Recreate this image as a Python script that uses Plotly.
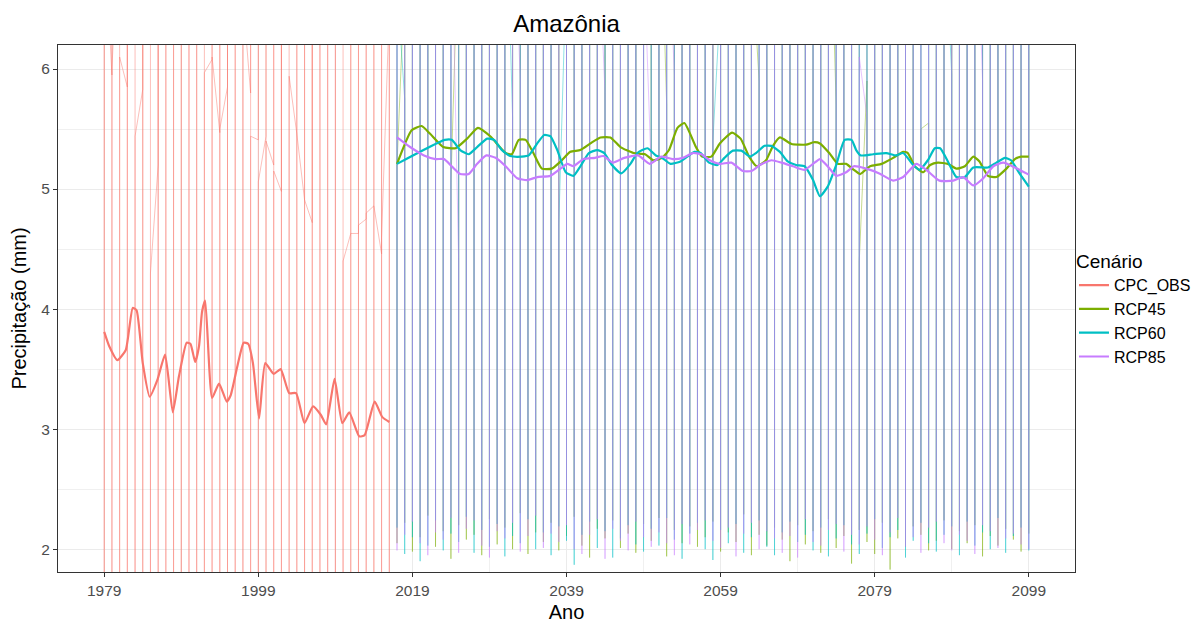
import plotly.graph_objects as go

# ---------------- data ----------------
series_names = ["CPC_OBS", "RCP45", "RCP60", "RCP85"]
series_colors = ["#F8766D", "#7CAE00", "#00BFC4", "#C77CFF"]
thin_colors = ["rgba(248,118,109,0.47)", "rgba(124,174,0,0.44)",
               "rgba(0,191,196,0.44)", "rgba(199,124,255,0.44)"]

x_ticks = [1979, 1999, 2019, 2039, 2059, 2079, 2099]
x_minor = [1989, 2009, 2029, 2049, 2069, 2089]
y_ticks = [2, 3, 4, 5, 6]
y_minor = [2.5, 3.5, 4.5, 5.5]

# monthly observations collapsed per year (first month, wettest, driest, last month)
cpc_years = list(range(1979, 2017))
cpc_jan = [6.9, 5.95, 7.4, 5.85, 6.8, 5.83, 6.6, 5.2, 7.1, 6.5,
           6.9, 6.4, 7.3, 6.6, 6.08, 5.47, 5.85, 6.7, 6.9, 5.8,
           5.41, 5.44, 5.2, 4.98, 6.5, 5.46, 4.91, 4.72, 6.6, 6.3,
           6.4, 6.8, 4.63, 4.63, 4.75, 4.86, 4.46, 6.5]
cpc_peak = [8.6, 9.1, 8.2, 9.4, 8.8, 9.9, 8.3, 8.9, 9.6, 8.5,
            9.2, 8.7, 9.0, 9.8, 8.4, 8.9, 9.3, 8.6, 8.1, 9.5,
            8.8, 9.0, 8.3, 8.7, 9.4, 8.5, 8.2, 8.9, 9.1, 8.6,
            8.0, 8.8, 8.4, 8.9, 8.3, 8.6, 8.1, 8.7]
cpc_low = [0.9, 1.1, 0.8, 1.2, 0.7, 1.0, 1.3, 0.9, 0.6, 1.1,
           1.0, 0.8, 1.2, 0.9, 1.0, 0.7, 1.1, 1.3, 0.8, 0.9,
           1.0, 1.2, 0.8, 1.1, 0.9, 1.0, 0.7, 1.2, 0.9, 1.0,
           1.1, 0.8, 0.9, 1.0, 0.7, 1.1, 0.9, 1.0]
cpc_dec = [7.2, 6.0, 6.1, 6.9, 5.44, 7.0, 4.3, 6.8, 6.4, 7.2,
           6.6, 7.0, 6.9, 5.97, 6.1, 5.5, 6.8, 7.3, 6.6, 5.44,
           5.06, 5.4, 5.15, 6.7, 5.94, 5.46, 4.91, 6.9, 6.5, 7.0,
           6.6, 4.4, 4.63, 4.7, 4.8, 4.86, 4.6, 6.2]

rcp_years = list(range(2017, 2100))
rcp45_jan = [7.4, 6.75, 7.9, 8.3, 7.1, 8.0, 7.6, 8.4, 7.2, 7.8,
             8.1, 7.3, 8.6, 7.7, 7.0, 8.2, 7.5, 8.8, 7.4, 7.9,
             8.0, 7.2, 8.5, 7.6, 7.1, 8.3, 7.8, 7.3, 8.7, 7.5,
             7.9, 8.1, 7.0, 8.4, 7.7, 5.7, 7.4, 8.2, 7.6, 8.0,
             7.3, 8.6, 7.5, 7.9, 8.3, 7.1, 7.8, 5.9, 8.1, 7.4,
             8.5, 7.2, 7.7, 8.0, 7.6, 8.4, 7.3, 5.7, 7.9, 8.2,
             7.5, 5.9, 8.1, 7.4, 8.6, 7.8, 7.0, 8.3, 7.7, 5.55,
             7.6, 8.0, 7.2, 8.4, 7.5, 7.9, 8.2, 7.3, 8.5, 7.7,
             8.0, 7.4, 7.8]
rcp45_low = [2.05, 2.22, 1.98, 2.10, 2.28, 2.02, 2.15, 1.92, 2.20, 2.08,
             2.12, 1.95, 2.25, 2.04, 2.18, 2.00, 2.30, 1.96, 2.14, 2.06,
             2.22, 1.99, 2.11, 2.27, 2.03, 1.93, 2.17, 2.09, 2.24, 2.01,
             2.13, 1.97, 2.21, 2.07, 2.26, 1.94, 2.16, 2.05, 2.19, 2.02,
             2.10, 2.23, 1.98, 2.14, 2.06, 2.29, 1.95, 2.12, 2.03, 2.18,
             2.08, 1.90, 2.20, 2.04, 2.15, 1.97, 2.25, 2.01, 2.11, 1.88,
             2.16, 2.06, 1.96, 2.22, 1.83, 2.09, 2.02, 2.19, 2.12, 1.99,
             2.07, 2.24, 2.00, 2.15, 2.05, 2.20, 1.94, 2.11, 2.03, 2.17,
             2.08, 1.98, 2.13]
rcp45_dec = [5.2, 7.6, 7.0, 7.9, 8.2, 7.3, 7.7, 5.05, 8.1, 7.4,
             7.8, 8.5, 7.2, 7.9, 8.0, 7.5, 8.3, 7.1, 7.7, 8.4,
             7.3, 7.9, 8.1, 7.4, 8.6, 7.6, 7.2, 8.0, 7.8, 8.3,
             7.5, 7.0, 8.2, 7.7, 7.9, 8.4, 7.3, 7.6, 8.1, 7.4,
             8.0, 7.2, 8.5, 7.8, 7.1, 8.3, 7.0, 7.6, 7.9, 8.2,
             7.4, 7.8, 8.1, 7.3, 8.6, 7.5, 7.9, 8.0, 7.2, 7.7,
             4.4, 8.2, 7.6, 7.9, 7.3, 8.4, 7.7, 7.1, 5.5, 8.0,
             7.8, 7.4, 8.3, 7.6, 7.9, 7.2, 8.1, 7.5, 7.8, 8.4,
             7.3, 7.9, 7.6]

rcp60_jan = [7.8, 5.75, 7.5, 8.1, 7.9, 7.2, 8.4, 7.6, 7.0, 8.2,
             7.4, 7.8, 8.0, 7.3, 8.5, 5.6, 7.7, 8.1, 7.2, 7.9,
             8.3, 7.5, 6.9, 8.0, 7.6, 7.1, 8.4, 7.8, 7.3, 8.2,
             7.7, 7.0, 8.6, 7.4, 7.9, 8.1, 7.5, 7.2, 8.3, 7.8,
             7.6, 8.0, 6.6, 7.9, 7.3, 8.2, 7.7, 7.1, 8.4, 7.6,
             7.9, 8.1, 7.4, 7.8, 8.5, 7.2, 7.6, 8.0, 7.3, 8.3,
             7.7, 7.1, 8.2, 7.5, 7.9, 8.4, 7.0, 7.8, 8.1, 7.4,
             7.6, 8.3, 5.95, 7.9, 7.2, 8.0, 7.7, 8.5, 7.3, 7.8,
             8.2, 7.5, 7.9]
rcp60_low = [2.18, 1.96, 2.10, 1.90, 2.03, 2.24, 1.99, 2.13, 2.06, 2.27,
             1.97, 2.16, 2.02, 2.21, 1.94, 2.11, 2.05, 2.25, 2.00, 2.14,
             1.95, 2.19, 2.07, 1.87, 2.12, 2.23, 2.01, 2.15, 1.93, 2.09,
             2.20, 2.04, 1.98, 2.17, 2.03, 2.26, 2.08, 1.92, 2.13, 2.22,
             2.00, 1.91, 2.16, 2.05, 2.21, 1.97, 2.10, 2.24, 2.02, 1.95,
             2.14, 2.23, 2.06, 2.12, 1.99, 2.18, 1.94, 2.09, 2.20, 2.04,
             1.96, 2.13, 2.25, 2.01, 2.10, 2.16, 1.93, 2.07, 2.22, 2.05,
             1.98, 2.12, 2.19, 1.95, 2.23, 2.03, 2.14, 2.00, 2.26, 1.97,
             2.11, 2.18, 1.99]
rcp60_dec = [6.7, 7.9, 7.3, 7.7, 8.2, 7.5, 7.1, 8.0, 7.8, 7.4,
             8.3, 7.6, 7.2, 8.1, 7.9, 7.5, 8.4, 7.3, 7.8, 8.0,
             7.4, 4.7, 7.6, 8.2, 7.1, 7.9, 7.5, 8.3, 7.7, 7.2,
             8.0, 7.8, 7.4, 8.5, 7.6, 7.3, 8.1, 7.9, 7.5, 8.2,
             7.0, 5.4, 7.7, 8.0, 7.6, 7.3, 8.4, 7.8, 7.2, 8.1,
             7.5, 7.9, 8.2, 7.4, 7.7, 8.0, 7.3, 8.6, 7.8, 7.1,
             8.3, 7.6, 7.9, 7.4, 8.1, 7.2, 7.8, 8.0, 7.5, 8.4,
             7.7, 7.3, 8.2, 7.6, 7.9, 7.4, 8.1, 7.2, 7.8, 8.3,
             7.5, 7.9, 7.6]

rcp85_jan = [8.0, 7.4, 8.3, 7.7, 7.2, 8.5, 7.9, 7.3, 4.4, 8.1,
             7.6, 8.2, 7.0, 7.8, 8.4, 7.5, 5.9, 7.9, 8.1, 7.3,
             7.7, 8.6, 7.4, 7.9, 8.2, 7.1, 7.8, 5.8, 8.0, 7.6,
             8.3, 7.2, 7.9, 5.15, 7.7, 8.1, 5.95, 7.5, 8.4, 7.8,
             7.3, 8.0, 7.6, 8.2, 7.4, 7.9, 8.5, 7.1, 7.7, 8.3,
             7.5, 8.0, 7.8, 7.2, 8.4, 7.6, 7.9, 8.1, 7.3, 7.8,
             8.2, 5.6, 7.7, 8.0, 7.4, 8.3, 7.9, 7.2, 8.6, 7.5,
             7.8, 8.1, 7.3, 7.9, 8.2, 7.6, 5.9, 8.0, 7.4, 7.7,
             8.3, 7.5, 7.9]
rcp85_low = [1.99, 2.12, 2.23, 2.05, 1.95, 2.14, 2.08, 2.26, 1.97, 2.17,
             2.24, 2.03, 1.93, 2.15, 2.09, 2.22, 1.98, 2.11, 2.28, 2.01,
             2.13, 2.06, 2.20, 2.00, 1.96, 2.12, 2.25, 1.92, 2.17, 2.07,
             1.99, 2.23, 2.10, 2.02, 2.14, 2.05, 1.95, 2.21, 2.04, 2.16,
             2.24, 2.07, 2.01, 2.18, 1.94, 2.13, 2.22, 2.00, 2.15, 2.09,
             1.97, 2.11, 1.93, 2.25, 2.06, 2.03, 2.16, 2.21, 1.98, 2.12,
             2.04, 2.19, 2.08, 1.95, 2.14, 2.26, 2.02, 2.10, 1.97, 2.18,
             2.23, 2.05, 1.99, 2.12, 2.07, 1.96, 2.20, 2.15, 2.01, 2.09,
             2.13, 2.04, 2.00]
rcp85_dec = [7.5, 8.1, 7.4, 7.9, 8.3, 7.2, 7.8, 7.5, 8.0, 7.6,
             8.2, 7.3, 7.9, 8.4, 7.1, 7.7, 8.0, 7.5, 7.8, 8.3,
             7.4, 7.9, 8.1, 7.2, 7.6, 8.5, 7.3, 7.8, 8.0, 7.4,
             7.7, 8.2, 7.0, 7.9, 8.3, 7.5, 7.8, 8.1, 7.2, 7.6,
             8.4, 7.7, 7.3, 8.0, 7.8, 7.4, 8.2, 7.9, 7.5, 8.1,
             7.3, 7.7, 8.3, 7.6, 7.9, 8.0, 7.4, 7.8, 8.2, 7.5,
             6.1, 7.9, 8.1, 7.3, 7.7, 8.0, 7.6, 8.4, 7.2, 7.8,
             8.1, 7.5, 7.9, 8.2, 7.4, 7.8, 8.0, 7.6, 8.3, 7.3,
             7.7, 8.0, 7.5]

# smoothed series (thick lines)
cpc_smooth_x = [1979.0, 1979.65, 1980.7, 1981.8, 1982.7, 1983.2, 1984.0, 1984.9, 1985.9, 1986.9,
                1987.9, 1988.7, 1989.7, 1990.2, 1990.8, 1991.3, 1991.7, 1992.1, 1993.0, 1993.9,
                1994.9, 1995.4, 1996.3, 1997.1, 1997.7, 1998.3, 1999.1, 1999.9, 2001.0, 2001.9,
                2003.0, 2003.9, 2005.0, 2006.1, 2007.1, 2007.8, 2008.9, 2009.9, 2010.8, 2012.1,
                2012.8, 2014.1, 2015.1, 2016.0]
cpc_smooth_y = [3.81, 3.69, 3.575, 3.66, 4.01, 3.99, 3.55, 3.27, 3.41, 3.62,
                3.14, 3.44, 3.72, 3.71, 3.56, 3.69, 3.98, 4.07, 3.26, 3.38,
                3.23, 3.28, 3.53, 3.72, 3.71, 3.55, 3.09, 3.55, 3.46, 3.50,
                3.30, 3.30, 3.05, 3.19, 3.12, 3.04, 3.42, 3.05, 3.14, 2.94,
                2.95, 3.23, 3.10, 3.06]

rcp45_smooth_x = [2017.0, 2018.9, 2020.2, 2021.3, 2023.0, 2024.6, 2026.1, 2027.5, 2029.1, 2031.1,
                  2031.9, 2032.8, 2033.7, 2034.7, 2035.8, 2037.1, 2038.4, 2039.5, 2040.8, 2042.1,
                  2043.4, 2044.7, 2046.0, 2047.7, 2049.2, 2050.3, 2051.4, 2052.3, 2053.4, 2054.3,
                  2055.8, 2056.6, 2057.8, 2058.9, 2060.5, 2061.6, 2062.7, 2063.7, 2064.9, 2065.8,
                  2066.7, 2068.2, 2070.1, 2071.1, 2071.9, 2073.1, 2074.2, 2075.3, 2076.3, 2077.1,
                  2078.4, 2079.9, 2081.4, 2082.7, 2083.3, 2084.2, 2085.3, 2086.2, 2087.2, 2088.5,
                  2089.6, 2090.7, 2091.8, 2092.6, 2093.7, 2094.8, 2096.1, 2097.2, 2098.0, 2099.0]
rcp45_smooth_y = [5.21, 5.49, 5.525, 5.46, 5.35, 5.34, 5.42, 5.51, 5.44, 5.30,
                  5.29, 5.41, 5.41, 5.30, 5.17, 5.17, 5.24, 5.31, 5.325, 5.38,
                  5.43, 5.43, 5.35, 5.30, 5.29, 5.24, 5.26, 5.325, 5.51, 5.55,
                  5.35, 5.27, 5.27, 5.38, 5.47, 5.42, 5.27, 5.19, 5.24, 5.36,
                  5.43, 5.375, 5.37, 5.39, 5.38, 5.30, 5.21, 5.21, 5.16, 5.125,
                  5.19, 5.21, 5.26, 5.31, 5.30, 5.19, 5.14, 5.20, 5.22, 5.21,
                  5.17, 5.19, 5.27, 5.23, 5.11, 5.10, 5.17, 5.25, 5.27, 5.27]

rcp60_smooth_x = [2017.0, 2023.2, 2024.1, 2025.2, 2026.3, 2027.4, 2028.7, 2029.6, 2030.6, 2031.7,
                  2033.2, 2034.1, 2035.2, 2036.1, 2036.9, 2037.8, 2038.9, 2039.9, 2040.8, 2041.9,
                  2043.0, 2043.9, 2044.9, 2046.1, 2047.3, 2048.2, 2049.5, 2050.6, 2051.4, 2052.5,
                  2053.8, 2055.6, 2056.4, 2057.5, 2058.6, 2059.5, 2060.6, 2061.7, 2062.8, 2063.6,
                  2064.7, 2065.6, 2066.7, 2067.7, 2068.8, 2069.9, 2071.0, 2071.9, 2072.9, 2074.0,
                  2075.1, 2076.0, 2076.6, 2077.2, 2078.8, 2080.5, 2081.8, 2082.7, 2084.0, 2084.8,
                  2085.9, 2086.8, 2087.5, 2088.5, 2089.6, 2090.7, 2091.8, 2093.7, 2094.8, 2095.9,
                  2096.7, 2097.8, 2099.0]
rcp60_smooth_y = [5.21, 5.41, 5.41, 5.325, 5.29, 5.35, 5.42, 5.41, 5.325, 5.275,
                  5.27, 5.28, 5.38, 5.45, 5.44, 5.325, 5.14, 5.11, 5.19, 5.30,
                  5.325, 5.30, 5.20, 5.13, 5.21, 5.30, 5.34, 5.28, 5.26, 5.21,
                  5.23, 5.31, 5.30, 5.22, 5.20, 5.26, 5.32, 5.32, 5.27, 5.30,
                  5.36, 5.36, 5.31, 5.23, 5.20, 5.19, 5.075, 4.94, 5.02, 5.20,
                  5.41, 5.41, 5.325, 5.28, 5.29, 5.30, 5.28, 5.30, 5.20, 5.16,
                  5.24, 5.34, 5.34, 5.23, 5.10, 5.10, 5.18, 5.18, 5.22, 5.26,
                  5.24, 5.13, 5.02]

rcp85_smooth_x = [2017.0, 2018.7, 2020.5, 2022.0, 2023.1, 2024.1, 2025.2, 2026.3, 2027.4, 2028.6,
                  2029.8, 2031.1, 2032.6, 2033.9, 2035.2, 2036.9, 2038.2, 2039.1, 2039.9, 2041.2,
                  2042.7, 2043.8, 2045.0, 2046.5, 2048.3, 2049.8, 2051.3, 2052.8, 2054.1, 2055.4,
                  2056.5, 2057.6, 2058.9, 2060.4, 2061.9, 2063.0, 2064.1, 2065.6, 2066.9, 2068.4,
                  2069.9, 2071.0, 2071.9, 2072.9, 2074.0, 2075.3, 2076.3, 2077.9, 2079.6, 2081.4,
                  2082.7, 2084.4, 2085.7, 2087.4, 2089.2, 2090.5, 2091.8, 2093.1, 2094.4, 2095.7,
                  2097.2, 2099.0]
rcp85_smooth_y = [5.43, 5.35, 5.28, 5.25, 5.25, 5.19, 5.125, 5.125, 5.21, 5.28,
                  5.26, 5.19, 5.09, 5.075, 5.10, 5.11, 5.17, 5.21, 5.19, 5.25,
                  5.26, 5.275, 5.22, 5.26, 5.28, 5.21, 5.27, 5.25, 5.26, 5.30,
                  5.29, 5.24, 5.21, 5.22, 5.15, 5.15, 5.20, 5.24, 5.22, 5.19,
                  5.16, 5.21, 5.25, 5.19, 5.11, 5.14, 5.19, 5.17, 5.13, 5.07,
                  5.10, 5.21, 5.16, 5.07, 5.07, 5.10, 5.03, 5.09, 5.19, 5.22,
                  5.18, 5.12]


def monthly_path(years, first, low, last, peak=None):
    xs, ys = [], []
    for i, yr in enumerate(years):
        vals = [first[i]]
        if peak is not None:
            vals.append(peak[i])
        vals += [low[i], last[i]]
        xs += [yr] * len(vals)
        ys += vals
    return xs, ys


thin = [
    monthly_path(cpc_years, cpc_jan, cpc_low, cpc_dec, cpc_peak),
    monthly_path(rcp_years, rcp45_jan, rcp45_low, rcp45_dec),
    monthly_path(rcp_years, rcp60_jan, rcp60_low, rcp60_dec),
    monthly_path(rcp_years, rcp85_jan, rcp85_low, rcp85_dec),
]
smooth = [
    (cpc_smooth_x, cpc_smooth_y),
    (rcp45_smooth_x, rcp45_smooth_y),
    (rcp60_smooth_x, rcp60_smooth_y),
    (rcp85_smooth_x, rcp85_smooth_y),
]

FONT = "Arial, Liberation Sans, sans-serif"
fig = go.Figure()

for (xs, ys), name, col in zip(thin, series_names, thin_colors):
    fig.add_trace(go.Scatter(x=xs, y=ys, mode="lines", name=name, showlegend=False,
                             line=dict(color=col, width=1, simplify=False),
                             hoverinfo="skip", legendgroup=name))

for (xs, ys), name, col in zip(smooth, series_names, series_colors):
    fig.add_trace(go.Scatter(x=xs, y=ys, mode="lines", name=name, showlegend=True,
                             line=dict(color=col, width=2.2, shape="spline", smoothing=0.5),
                             legendgroup=name))

fig.update_layout(
    width=1200, height=623,
    margin=dict(l=58, r=125, t=45, b=51, autoexpand=False),
    paper_bgcolor="white", plot_bgcolor="white",
    font=dict(family=FONT, color="black"),
    title=dict(text="Amazônia", x=0.5, xref="paper", xanchor="center",
               y=1 - 24 / 623, yref="container", yanchor="middle",
               font=dict(size=24, color="black", family=FONT)),
    legend=dict(title=dict(text="Cenário", font=dict(size=19, color="black")),
                font=dict(size=16, color="black"),
                x=0.999, xanchor="left", y=0.5, yanchor="middle",
                itemwidth=30, bgcolor="rgba(0,0,0,0)", tracegroupgap=0),
    showlegend=True,
)

fig.update_xaxes(
    range=[1973, 2105], tickvals=x_ticks, ticktext=[str(v) for v in x_ticks],
    showline=True, mirror=True, linecolor="#333333", linewidth=1,
    ticks="outside", ticklen=4, tickcolor="#333333", tickwidth=1,
    showgrid=True, gridcolor="#EBEBEB", gridwidth=1, zeroline=False,
    minor=dict(tickvals=x_minor, showgrid=True, gridcolor="#F0F0F0", gridwidth=0.6, ticks=""),
    tickfont=dict(size=15.5, color="#4D4D4D", family=FONT),
    title=dict(text="Ano", font=dict(size=20, color="black", family=FONT), standoff=9),
    automargin=False,
)
fig.update_yaxes(
    range=[1.81, 6.2], tickvals=y_ticks, ticktext=[str(v) for v in y_ticks],
    showline=True, mirror=True, linecolor="#333333", linewidth=1,
    ticks="outside", ticklen=4, tickcolor="#333333", tickwidth=1,
    showgrid=True, gridcolor="#EBEBEB", gridwidth=1, zeroline=False,
    minor=dict(tickvals=y_minor, showgrid=True, gridcolor="#F0F0F0", gridwidth=0.6, ticks=""),
    tickfont=dict(size=15.5, color="#4D4D4D", family=FONT),
    title=dict(text="Precipitação (mm)", font=dict(size=20, color="black", family=FONT), standoff=9),
    automargin=False,
)

fig.write_html("out.html", config={"displayModeBar": False},
               post_script="document.body.style.margin='0';document.body.style.padding='0';")
